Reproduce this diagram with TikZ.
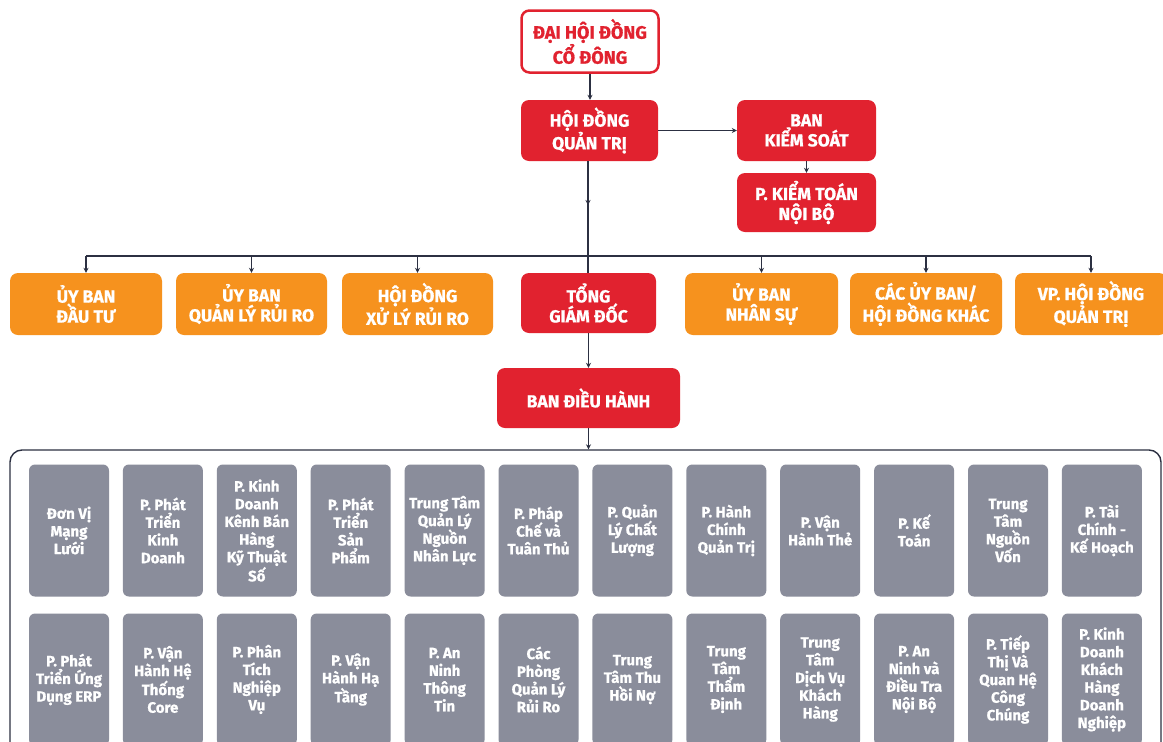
\documentclass[tikz,border=0pt]{standalone}
\usepackage{fontspec}
\setmainfont{Fira Sans}[BoldFeatures={FakeBold=0.8}]
\usetikzlibrary{arrows.meta}
\definecolor{cred}{HTML}{E1222F}
\definecolor{corange}{HTML}{F6921E}
\definecolor{cgray}{HTML}{8A8D9B}
\definecolor{cline}{HTML}{2C3042}
\begin{document}
\begin{tikzpicture}[x=1pt,y=-1pt,
  box/.style={rounded corners=8pt, inner sep=0pt, align=center, text=white,
    font=\bfseries\fontsize{17.5}{20}\selectfont},
  redbox/.style={box, fill=cred},
  orbox/.style={box, fill=corange},
  topbox/.style={box, fill=white, draw=cred, line width=2.5pt, text=cred,
    font=\bfseries\fontsize{18}{21}\selectfont},
  graybox/.style={rounded corners=6pt, fill=cgray, text=white, minimum width=80pt,
    minimum height=132pt, inner sep=0pt, align=center,
    font=\bfseries\fontsize{15}{17.7}\selectfont},
  frame/.style={draw=cline, line width=1.4pt, rounded corners=12pt, inner sep=0pt},
  conn/.style={draw=cline, line width=1.2pt, -{Stealth[length=5pt,width=5pt]}},
  plain/.style={draw=cline, line width=1.2pt}]
\useasboundingbox (0,0) rectangle (1163,742);
\clip (0,0) rectangle (1163,742);
\fill[white] (0,0) rectangle (1163,742);

% top levels
\node[topbox, minimum width=137pt, minimum height=62pt] (dhd) at (590,41.5) {ĐẠI HỘI ĐỒNG\\CỔ ĐÔNG};
\node[redbox, minimum width=137pt, minimum height=61pt] (hdqt) at (589.5,130.5) {HỘI ĐỒNG\\QUẢN TRỊ};
\node[redbox, minimum width=139pt, minimum height=61pt] (bks) at (806.5,130.5) {BAN\\KIỂM SOÁT};
\node[redbox, minimum width=139pt, minimum height=59pt] (ktnb) at (806.5,202.5) {P. KIỂM TOÁN\\NỘI BỘ};

% second level
\node[orbox, minimum width=152pt, minimum height=62pt] (ub1) at (86,304) {ỦY BAN\\ĐẦU TƯ};
\node[orbox, minimum width=151pt, minimum height=62pt] (ub2) at (251.5,304) {ỦY BAN\\QUẢN LÝ RỦI RO};
\node[orbox, minimum width=151pt, minimum height=62pt] (ub3) at (417.5,304) {HỘI ĐỒNG\\XỬ LÝ RỦI RO};
\node[redbox, minimum width=135pt, minimum height=60pt] (tgd) at (588.5,303) {TỔNG\\GIÁM ĐỐC};
\node[orbox, minimum width=153pt, minimum height=62pt] (ub5) at (761.5,304) {ỦY BAN\\NHÂN SỰ};
\node[orbox, minimum width=152pt, minimum height=62pt] (ub6) at (926,304) {CÁC ỦY BAN/\\HỘI ĐỒNG KHÁC};
\node[orbox, minimum width=152pt, minimum height=62pt] (ub7) at (1091,304) {VP. HỘI ĐỒNG\\QUẢN TRỊ};

\node[redbox, minimum width=183pt, minimum height=60pt] (bdh) at (588.5,398) {BAN ĐIỀU HÀNH};

% container
\node[frame, minimum width=1151pt, minimum height=360pt] (grp) at (585.5,630) {};

% connectors
\draw[conn] (dhd.south) -- (dhd.south |- hdqt.north);
\draw[conn] (hdqt.east) -- (bks.west);
\draw[conn] (bks.south) -- (ktnb.north);
\coordinate (mid) at (588,205);
\coordinate (bus) at (588,256);
\draw[plain] (hdqt.south -| mid) -- (tgd.north -| mid);
\draw[conn] (hdqt.south -| mid) -- (mid);
\draw[plain] (ub1.north |- bus) -- (ub7.north |- bus);
\foreach \n in {ub1,ub2,ub3,ub5,ub6,ub7}
  \draw[conn] (\n.north |- bus) -- (\n.north);
\draw[conn] (tgd.south) -- (tgd.south |- bdh.north);
\draw[conn] (bdh.south) -- (bdh.south |- grp.north);

% departments row 1
\foreach \t [count=\i] in {
  {Đơn Vị\\Mạng\\Lưới},
  {P. Phát\\Triển\\Kinh\\Doanh},
  {P. Kinh\\Doanh\\Kênh Bán\\Hàng\\Kỹ Thuật\\Số},
  {P. Phát\\Triển\\Sản\\Phẩm},
  {Trung Tâm\\Quản Lý\\Nguồn\\Nhân Lực},
  {P. Pháp\\Chế và\\Tuân Thủ},
  {P. Quản\\Lý Chất\\Lượng},
  {P. Hành\\Chính\\Quản Trị},
  {P. Vận\\Hành Thẻ},
  {P. Kế\\Toán},
  {Trung\\Tâm\\Nguồn\\Vốn},
  {P. Tài\\Chính -\\Kế Hoạch}}
{
  \pgfmathsetmacro{\xx}{69+93.9*(\i-1)}
  \node[graybox] (a\i) at (\xx,530.5) {\t};
}
% departments row 2
\foreach \t [count=\i] in {
  {P. Phát\\Triển Ứng\\Dụng ERP},
  {P. Vận\\Hành Hệ\\Thống\\Core},
  {P. Phân\\Tích\\Nghiệp\\Vụ},
  {P. Vận\\Hành Hạ\\Tầng},
  {P. An\\Ninh\\Thông\\Tin},
  {Các\\Phòng\\Quản Lý\\Rủi Ro},
  {Trung\\Tâm Thu\\Hồi Nợ},
  {Trung\\Tâm\\Thẩm\\Định},
  {Trung\\Tâm\\Dịch Vụ\\Khách\\Hàng},
  {P. An\\Ninh và\\Điều Tra\\Nội Bộ},
  {P. Tiếp\\Thị Và\\Quan Hệ\\Công\\Chúng},
  {P. Kinh\\Doanh\\Khách\\Hàng\\Doanh\\Nghiệp}}
{
  \pgfmathsetmacro{\xx}{69+93.9*(\i-1)}
  \node[graybox] (b\i) at (\xx,679.5) {\t};
}
\end{tikzpicture}
\end{document}
